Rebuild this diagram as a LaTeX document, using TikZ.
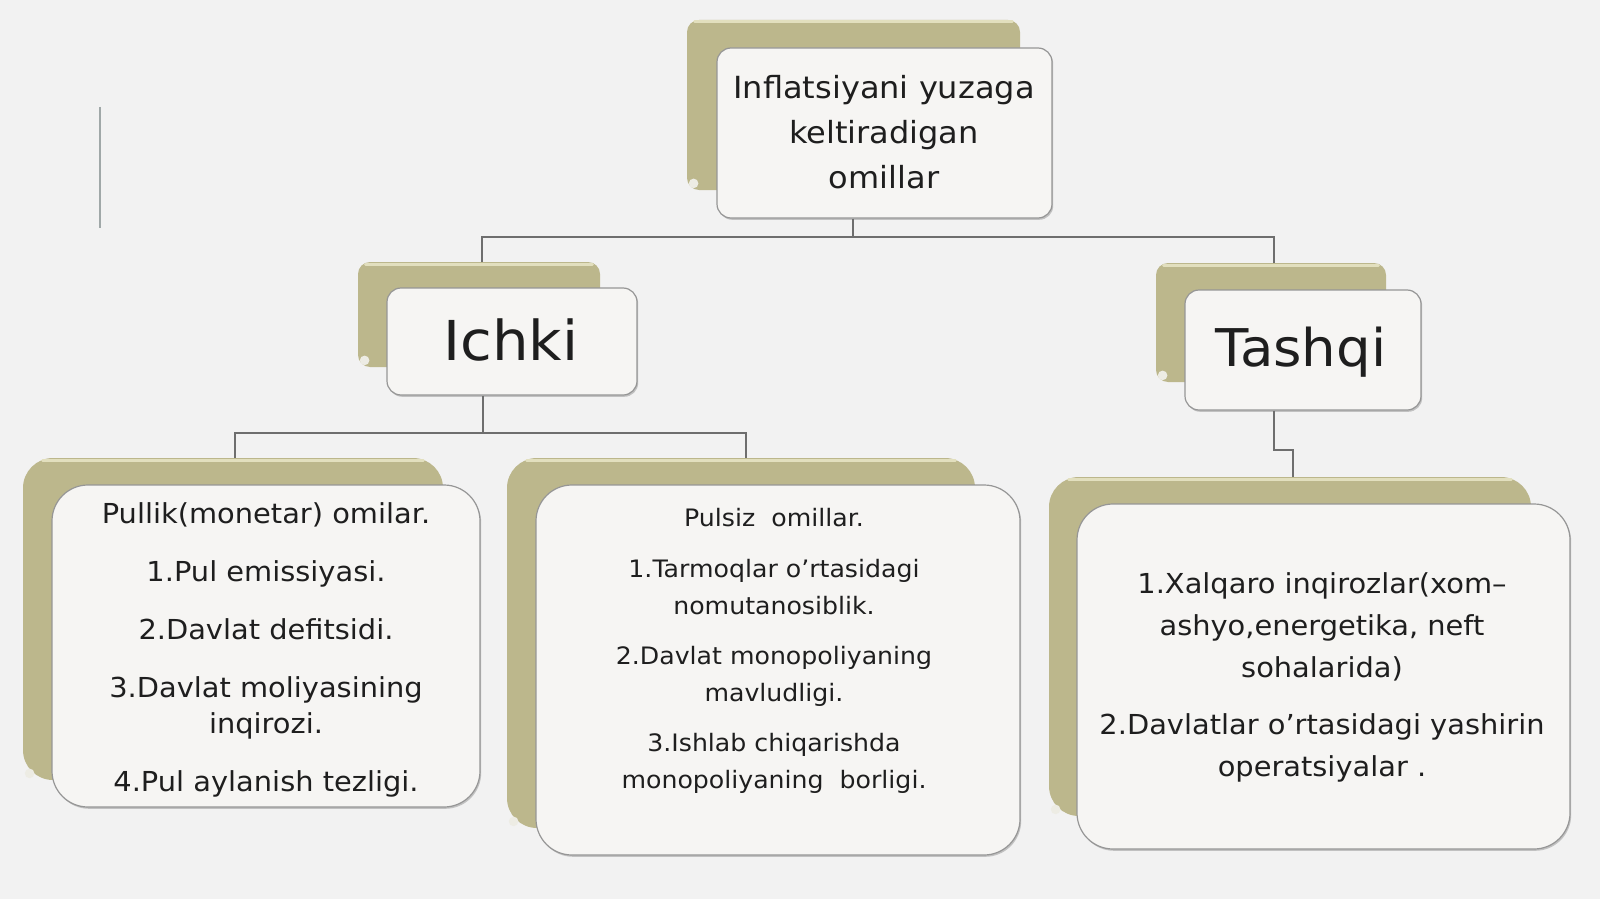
\documentclass[tikz,border=0pt]{standalone}
\usepackage{fontspec}
\setmainfont{DejaVu Sans}[FakeStretch=1.05]
\usetikzlibrary{shadows,fit}
\definecolor{bgc}{RGB}{242,242,242}
\definecolor{olivem}{RGB}{188,183,140}
\definecolor{olivel}{RGB}{226,223,190}
\definecolor{olived}{RGB}{160,155,115}
\definecolor{cardfill}{RGB}{246,245,243}
\definecolor{cardline}{RGB}{150,150,150}
\definecolor{connc}{RGB}{110,110,110}
\definecolor{textc}{RGB}{30,30,30}
\definecolor{strayc}{RGB}{160,168,168}
\begin{document}
\begin{tikzpicture}[x=0.5pt,y=-0.5pt,
  backcard/.style={draw=none, fill=olivem, rounded corners=#1, inner sep=0pt},
  frontcard/.style={draw=cardline, line width=0.6pt, fill=cardfill, rounded corners=#1, inner sep=0pt,
    drop shadow={shadow xshift=0.6pt, shadow yshift=-0.9pt, opacity=0.35, fill=black!60}},
  conn/.style={draw=connc, line width=0.75pt},
  rimline/.style={draw=olivel, line width=1.5pt, line cap=round},
  curl/.style={fill=cardfill!85!olivem},
  txt/.style={text=textc, align=center, inner sep=0pt}]
\fill[bgc] (0,0) rectangle (1600,899);
\useasboundingbox (0,0) rectangle (1600,899);
\draw[strayc, line width=1pt] (100,107) -- (100,228);

% back cards
\node[backcard=6pt, fit={(687,20)(1020,190)}] (topB) {};
\node[backcard=6pt, fit={(358,262)(600,367)}] (ichB) {};
\node[backcard=6pt, fit={(1156,263)(1386,382)}] (tasB) {};
\node[backcard=15pt, fit={(23,458)(443,780)}] (lB) {};
\node[backcard=15pt, fit={(507,458)(975,828)}] (mB) {};
\node[backcard=15pt, fit={(1049,477)(1531,816)}] (rB) {};
\foreach \b/\r in {topB/4pt,ichB/4pt,tasB/4pt,lB/10pt,mB/10pt,rB/10pt}{
  \draw[rimline] ([xshift=\r,yshift=-1.2pt]\b.north west) -- ([xshift=-\r,yshift=-1.2pt]\b.north east);
  \fill[curl] ([xshift=3.5pt,yshift=3.5pt]\b.south west) circle (2.4pt);
}

% front cards
\node[frontcard=7pt, fit={(717,48)(1052,218)}] (topW) {};
\node[frontcard=7pt, fit={(387,288)(637,395)}] (ichW) {};
\node[frontcard=7pt, fit={(1185,290)(1421,410)}] (tasW) {};
\node[frontcard=18pt, fit={(52,485)(480,807)}] (lW) {};
\node[frontcard=18pt, fit={(536,485)(1020,855)}] (mW) {};
\node[frontcard=18pt, fit={(1077,504)(1570,849)}] (rW) {};

% connectors
\coordinate (jt) at (853,237);
\coordinate (ji) at (482,237);
\coordinate (jk) at (1274,237);
\coordinate (jb) at (483,433);
\coordinate (jl) at (235,433);
\coordinate (jm) at (746,433);
\coordinate (jr1) at (1274,450);
\coordinate (jr2) at (1293,450);
\draw[conn] (topW.south -| jt) -- (jt);
\draw[conn] (ichB.north -| ji) -- (ji) -- (jk) -- (tasB.north -| jk);
\draw[conn] (ichW.south -| jb) -- (jb);
\draw[conn] (lB.north -| jl) -- (jl) -- (jm) -- (mB.north -| jm);
\draw[conn] (tasW.south -| jr1) -- (jr1) -- (jr2) -- (rB.north -| jr2);

% texts (anchor=base is the baseline of the last line)
\node[txt, font=\fontsize{15.25pt}{22.5pt}\selectfont, anchor=base] (topT) at (884,188)
  {Inflatsiyani yuzaga\\keltiradigan\\omillar};
\node[txt, font=\fontsize{27.5pt}{33pt}\selectfont, anchor=base] (ichT) at (511,360) {Ichki};
\node[txt, font=\fontsize{26pt}{31pt}\selectfont, anchor=base] (tasT) at (1301,366) {Tashqi};
\node[txt, font=\fontsize{13.75pt}{18pt}\selectfont, anchor=base] (lT) at (266,791)
  {Pullik(monetar) omilar.\\[11pt]1.Pul emissiyasi.\\[11pt]2.Davlat defitsidi.\\[11pt]3.Davlat moliyasining\\inqirozi.\\[11pt]4.Pul aylanish tezligi.};
\node[txt, font=\fontsize{12pt}{18.5pt}\selectfont, anchor=base] (mT) at (774,788)
  {Pulsiz\ \ omillar.\\[7pt]1.Tarmoqlar o’rtasidagi\\nomutanosiblik.\\[6.5pt]2.Davlat monopoliyaning\\mavludligi.\\[6.5pt]3.Ishlab chiqarishda\\monopoliyaning\ \ borligi.};
\node[txt, font=\fontsize{13.75pt}{21pt}\selectfont, anchor=base] (rT) at (1322,776)
  {1.Xalqaro inqirozlar(xom–\\ashyo,energetika, neft\\sohalarida)\\[7.5pt]2.Davlatlar o’rtasidagi yashirin\\operatsiyalar .};
\end{tikzpicture}
\end{document}
